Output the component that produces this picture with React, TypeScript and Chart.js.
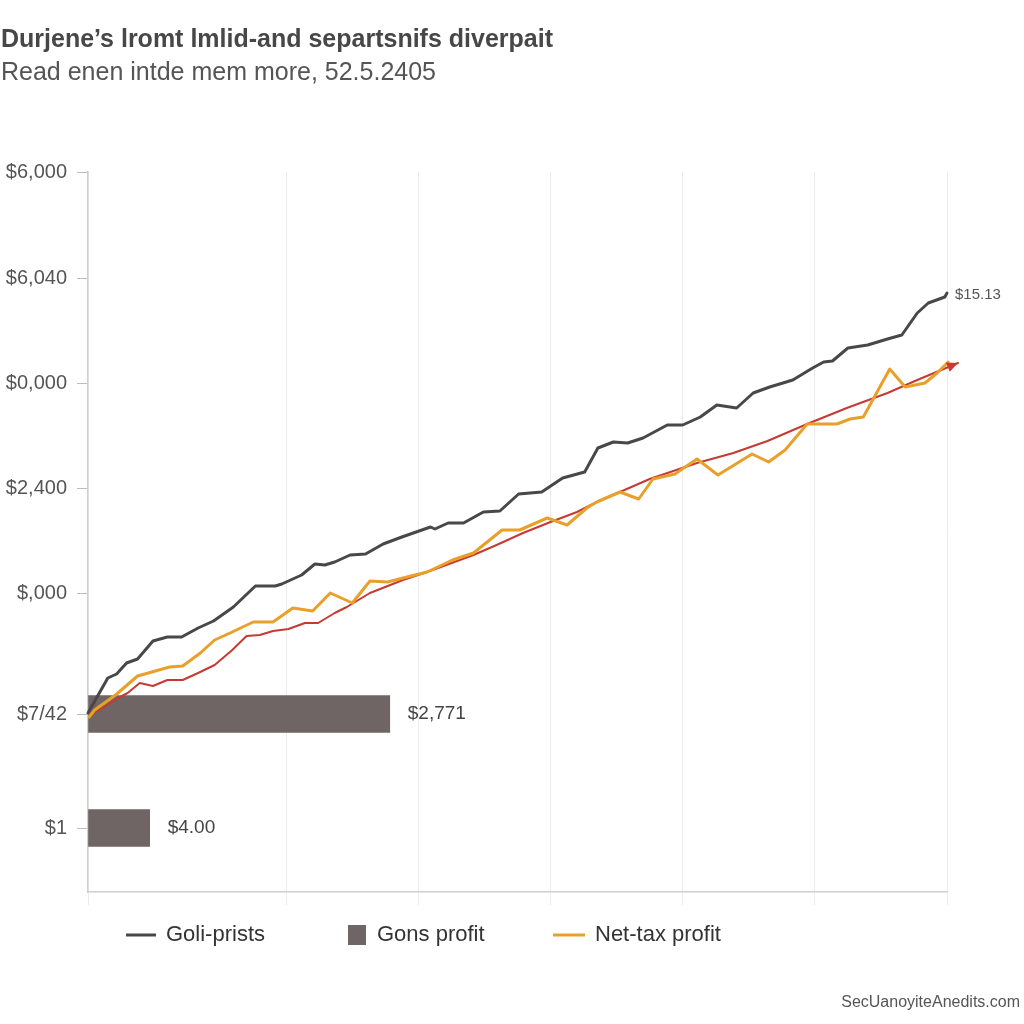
import React, { useEffect, useRef } from "react";
import { Chart, registerables } from "chart.js";

Chart.register(...registerables);

const FONT = '"Liberation Sans", Arial, Helvetica, sans-serif';

const TITLE = "Durjene’s lromt lmlid-and separtsnifs diverpait";
const SUBTITLE = "Read enen intde mem more, 52.5.2405";
const FOOTER = "SecUanoyiteAnedits.com";

const yTickValues = [7200, 6140, 5090, 4040, 2990, 1780, 640];
const yTickLabels = ["$6,000", "$6,040", "$0,000", "$2,400", "$,000", "$7/42", "$1"];
const xGridMonths = [0, 18, 30, 42, 54, 66, 78];

const grossMonths = [0, 1.8, 2.6, 3.5, 4.5, 5.9, 7.2, 8.5, 10.0, 11.4, 13.2, 15.2, 17.0, 17.6, 19.4, 20.6, 21.5, 22.4, 23.8, 25.2, 26.8, 28.5, 31.1, 31.5, 32.7, 34.1, 35.9, 37.4, 39.1, 41.2, 43.1, 45.1, 46.3, 47.7, 49.0, 50.4, 52.6, 54.0, 55.6, 57.1, 58.9, 60.4, 61.9, 64.0, 65.8, 66.8, 67.6, 69.0, 70.8, 72.6, 73.9, 75.3, 76.3, 77.8, 78.0];
const grossValues = [1790, 2140, 2180, 2290, 2330, 2510, 2550, 2550, 2640, 2710, 2850, 3060, 3060, 3080, 3170, 3280, 3270, 3300, 3370, 3380, 3480, 3550, 3650, 3630, 3690, 3690, 3800, 3810, 3980, 4000, 4140, 4200, 4440, 4500, 4490, 4540, 4670, 4670, 4750, 4870, 4840, 4990, 5050, 5120, 5240, 5300, 5310, 5440, 5470, 5530, 5570, 5790, 5890, 5950, 5990];

const netMonths = [0.1, 0.6, 2.5, 4.5, 5.8, 7.4, 8.6, 10.2, 11.5, 13.1, 15.0, 16.8, 18.6, 20.4, 22.0, 24.0, 25.6, 27.2, 28.6, 30.8, 33.1, 35.0, 37.6, 39.2, 41.7, 43.5, 45.3, 46.2, 48.3, 50.0, 51.3, 53.3, 55.3, 57.2, 60.3, 61.8, 63.3, 65.3, 68.0, 69.2, 70.4, 72.8, 74.2, 76.0, 77.1, 78.1];
const netValues = [1750, 1820, 1970, 2160, 2200, 2250, 2260, 2390, 2520, 2600, 2700, 2700, 2840, 2810, 2990, 2890, 3110, 3100, 3140, 3200, 3320, 3390, 3620, 3620, 3740, 3670, 3840, 3900, 4000, 3930, 4130, 4180, 4330, 4170, 4380, 4300, 4420, 4680, 4680, 4730, 4750, 5230, 5050, 5090, 5190, 5300];

const trendMonths = [0.1, 1.5, 2.9, 3.6, 4.7, 5.9, 7.2, 8.6, 10.0, 11.5, 13.1, 14.4, 15.6, 16.8, 18.2, 19.7, 20.9, 22.4, 23.5, 25.6, 28.6, 30.8, 35.0, 37.1, 39.5, 42.0, 44.4, 46.2, 48.3, 51.0, 55.3, 58.6, 61.7, 65.3, 68.9, 72.6, 75.3, 79.0];
const trendValues = [1760, 1850, 1950, 1990, 2090, 2060, 2120, 2120, 2190, 2270, 2420, 2560, 2570, 2610, 2630, 2690, 2690, 2790, 2850, 2990, 3120, 3200, 3370, 3470, 3590, 3700, 3800, 3900, 4000, 4130, 4290, 4390, 4510, 4680, 4840, 4990, 5120, 5290];

const barLevels = [1780, 640];
const barValues = [27.4, 5.6];
const barLabels = ["$2,771", "$4.00"];
const endLabel = "$15.13";
const legendLabels = ["Goli-prists", "Gons profit", "Net-tax profit"];

const DARK = "#484848";
const ORANGE = "#e9a02a";
const RED = "#c73a32";
const BAR = "#6e6564";

const pts = (xs: number[], ys: number[]) => xs.map((x, i) => ({ x, y: ys[i] }));

const decorPlugin = {
  id: "decor",
  afterDatasetsDraw(chart: any) {
    const ctx = chart.ctx;
    const rm = chart.getDatasetMeta(2);
    const n = rm.data.length;
    if (n > 1) {
      const a = rm.data[n - 2];
      const b = rm.data[n - 1];
      const ang = Math.atan2(b.y - a.y, b.x - a.x);
      const L = 11;
      const W = 5;
      ctx.save();
      ctx.fillStyle = RED;
      ctx.beginPath();
      ctx.moveTo(b.x, b.y);
      ctx.lineTo(b.x - L * Math.cos(ang) + W * Math.sin(ang), b.y - L * Math.sin(ang) - W * Math.cos(ang));
      ctx.lineTo(b.x - L * Math.cos(ang) - W * Math.sin(ang), b.y - L * Math.sin(ang) + W * Math.cos(ang));
      ctx.closePath();
      ctx.fill();
      ctx.restore();
    }
  },
  afterDraw(chart: any) {
    const ctx = chart.ctx;
    ctx.save();
    ctx.textBaseline = "middle";
    ctx.textAlign = "left";
    ctx.fillStyle = "#474747";
    ctx.font = `bold 25px ${FONT}`;
    ctx.fillText(TITLE, 1, 40);
    ctx.fillStyle = "#555555";
    ctx.font = `25px ${FONT}`;
    ctx.fillText(SUBTITLE, 1, 73);

    const bm = chart.getDatasetMeta(3);
    ctx.fillStyle = "#444444";
    ctx.font = `19px ${FONT}`;
    bm.data.forEach((el: any, i: number) => {
      ctx.fillText(barLabels[i], el.x + 18, el.y);
    });

    const gm = chart.getDatasetMeta(0);
    const last = gm.data[gm.data.length - 1];
    ctx.fillStyle = "#555555";
    ctx.font = `15px ${FONT}`;
    ctx.fillText(endLabel, last.x + 8, last.y + 2);

    const ly = 935;
    ctx.font = `22px ${FONT}`;
    ctx.fillStyle = "#333333";
    ctx.strokeStyle = DARK;
    ctx.lineWidth = 3;
    ctx.beginPath();
    ctx.moveTo(126, ly);
    ctx.lineTo(156, ly);
    ctx.stroke();
    ctx.fillText(legendLabels[0], 166, ly);

    ctx.fillStyle = BAR;
    ctx.fillRect(348, ly - 10, 18, 20);
    ctx.fillStyle = "#333333";
    ctx.fillText(legendLabels[1], 377, ly);

    ctx.strokeStyle = ORANGE;
    ctx.beginPath();
    ctx.moveTo(553, ly);
    ctx.lineTo(585, ly);
    ctx.stroke();
    ctx.fillText(legendLabels[2], 595, ly);

    ctx.textAlign = "right";
    ctx.fillStyle = "#555555";
    ctx.font = `16px ${FONT}`;
    ctx.fillText(FOOTER, 1020, 1003);
    ctx.restore();
  },
};

export default function App() {
  const ref = useRef<HTMLCanvasElement | null>(null);

  useEffect(() => {
    if (!ref.current) return;
    const chart = new Chart(ref.current, {
      type: "line",
      data: {
        datasets: [
          {
            label: legendLabels[0],
            data: pts(grossMonths, grossValues),
            borderColor: DARK,
            borderWidth: 3,
            pointRadius: 0,
            tension: 0,
            clip: false,
            order: 1,
          } as any,
          {
            label: legendLabels[2],
            data: pts(netMonths, netValues),
            borderColor: ORANGE,
            borderWidth: 3,
            pointRadius: 0,
            tension: 0,
            clip: false,
            order: 2,
          } as any,
          {
            label: "Trend",
            data: pts(trendMonths, trendValues),
            borderColor: RED,
            borderWidth: 2,
            pointRadius: 0,
            tension: 0,
            clip: false,
            order: 3,
          } as any,
          {
            type: "bar",
            label: legendLabels[1],
            indexAxis: "y",
            data: barLevels.map((y, i) => ({ x: barValues[i], y })),
            backgroundColor: BAR,
            barThickness: 37,
            order: 10,
          } as any,
        ],
      },
      options: {
        animation: false,
        responsive: true,
        maintainAspectRatio: false,
        layout: { padding: { top: 172, left: 0, right: 77, bottom: 119 } },
        plugins: {
          legend: { display: false },
          tooltip: { enabled: false },
          title: { display: false },
        },
        elements: { line: { borderJoinStyle: "round", borderCapStyle: "round" } },
        scales: {
          x: {
            type: "linear",
            min: 0,
            max: 78,
            offset: false,
            afterBuildTicks: (scale: any) => {
              scale.ticks = xGridMonths.map((v) => ({ value: v }));
            },
            afterFit: (scale: any) => {
              scale.height = 13;
            },
            ticks: { display: false },
            grid: { offset: false, color: "#ececec", lineWidth: 1, tickLength: 13, drawTicks: true },
            border: { color: "#cfcfcf", width: 1.5 },
          },
          y: {
            type: "linear",
            min: 0,
            max: 7200,
            offset: false,
            afterBuildTicks: (scale: any) => {
              scale.ticks = yTickValues.map((v) => ({ value: v }));
            },
            afterFit: (scale: any) => {
              scale.width = 88;
            },
            ticks: {
              autoSkip: false,
              padding: 10,
              color: "#555555",
              font: { family: FONT, size: 20 },
              callback: (_v: any, i: number) => yTickLabels[i],
            },
            grid: { offset: false, drawOnChartArea: false, drawTicks: true, tickLength: 11, color: "#bdbdbd" },
            border: { color: "#cfcfcf", width: 1.5 },
          },
        },
      } as any,
      plugins: [decorPlugin],
    });
    return () => chart.destroy();
  }, []);

  return (
    <div style={{ position: "absolute", left: 0, top: 0, width: 1024, height: 1024, background: "#ffffff" }}>
      <canvas ref={ref} />
    </div>
  );
}
